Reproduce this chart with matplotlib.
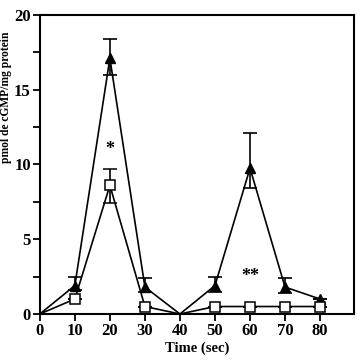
import matplotlib
matplotlib.use('Agg')

import numpy as np
import matplotlib.pyplot as plt
from matplotlib.ticker import MultipleLocator

time = [0, 10, 20, 30, 40, 50, 60, 70, 80]
tri = [0, 1.9, 17.1, 1.8, 0, 1.9, 9.75, 1.8, 1.0]
tri_up = [0, 0.6, 1.3, 0.6, 0, 0.6, 2.35, 0.6, 0]
tri_dn = [0, 0.3, 1.1, 0.3, 0, 0.4, 1.3, 0.4, 0]
sq = [0, 1.0, 8.6, 0.5, 0, 0.5, 0.5, 0.5, 0.5]
sq_up = [0, 0, 1.1, 0, 0, 0, 0, 0, 0]
sq_dn = [0, 0, 1.2, 0, 0, 0, 0, 0, 0]
shown = [1, 2, 3, 5, 6, 7, 8]

plt.rcParams['font.family'] = ['Liberation Serif']
plt.rcParams['font.weight'] = 'bold'

fig = plt.figure(figsize=(3.62, 3.63), dpi=100)
ax = fig.add_axes([0.110, 0.135, 0.868, 0.824])

ax.errorbar(time, tri, yerr=[tri_dn, tri_up], color='black', lw=1.2,
            marker='^', ms=7, mfc='black', mec='black', capsize=5,
            elinewidth=1.2, capthick=1.2, markevery=shown, zorder=3)
ax.errorbar(time, sq, yerr=[sq_dn, sq_up], color='black', lw=1.2,
            marker='s', ms=7.5, mfc='white', mec='black', mew=1.1, capsize=5,
            elinewidth=1.2, capthick=1.2, markevery=shown, zorder=4)

ax.text(20, 11, '*', ha='center', va='center', fontsize=13)
ax.text(60, 2.5, '**', ha='center', va='center', fontsize=13)

ax.set_xlim(0, 89.7)
ax.set_ylim(0, 20)
ax.set_xticks(time)
ax.yaxis.set_major_locator(MultipleLocator(5))
ax.yaxis.set_minor_locator(MultipleLocator(2.5))
ax.tick_params(which='both', direction='out', width=1.3, labelsize=12, pad=1.5)
ax.tick_params(which='major', length=5)
ax.tick_params(which='minor', length=5)
for s in ax.spines.values():
    s.set_linewidth(1.5)

ax.set_xlabel('Time (sec)', fontsize=10.5, fontweight='bold', labelpad=2)
ax.set_ylabel('pmol de cGMP/mg protein', fontsize=8.3, fontweight='bold')
ax.yaxis.set_label_coords(-0.088, 0.725)

fig.savefig('out.png', dpi=100)
